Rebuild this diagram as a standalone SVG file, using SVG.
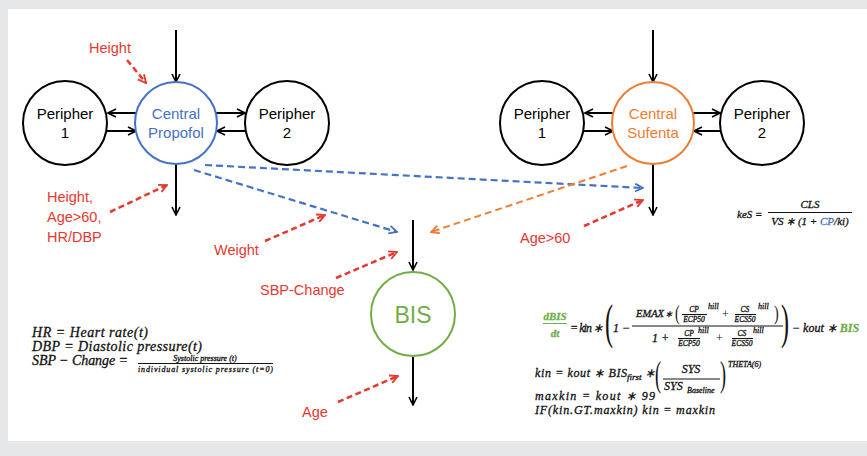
<svg xmlns="http://www.w3.org/2000/svg" width="867" height="456" viewBox="0 0 867 456">
<defs>
<style>
.frame{fill:#e6e7e9}
.node{fill:#fff;stroke-width:2}
.blk{stroke:#000}
.nt{font-family:"Liberation Sans",Arial,sans-serif;font-size:15px;text-anchor:middle}
.lbl{font-family:"Liberation Sans",Arial,sans-serif;font-size:14.5px;fill:#e5392f}
.ln{fill:none;stroke:#000;stroke-width:2;marker-end:url(#ah)}
.dr{fill:none;stroke:#e5392f;stroke-width:2.5;stroke-dasharray:6 3.5;marker-end:url(#ahr)}
.db{fill:none;stroke:#4472c4;stroke-width:2.2;stroke-dasharray:7 4;marker-end:url(#ahb)}
.do{fill:none;stroke:#ed7d31;stroke-width:2;stroke-dasharray:7 4;marker-end:url(#aho)}
.m{font-family:"Liberation Serif","Times New Roman",serif;font-style:italic;fill:#111;stroke:#111;stroke-width:0.3}
.mu{font-family:"Liberation Serif","Times New Roman",serif;fill:#111}
.fl{stroke:#111;stroke-width:1}
.g{fill:#70ad47;stroke:#70ad47;font-weight:bold}
</style>
<marker id="ah" viewBox="0 0 10 10" refX="9" refY="5" markerWidth="5" markerHeight="5" orient="auto" markerUnits="strokeWidth"><path d="M1,1 L9,5 L1,9" fill="none" stroke="#000" stroke-width="1.6"/></marker>
<marker id="ahr" viewBox="0 0 10 10" refX="9" refY="5" markerWidth="4" markerHeight="4" orient="auto" markerUnits="strokeWidth"><path d="M1,1 L9,5 L1,9" fill="none" stroke="#e5392f" stroke-width="1.8"/></marker>
<marker id="ahb" viewBox="0 0 10 10" refX="9" refY="5" markerWidth="4.5" markerHeight="4.5" orient="auto" markerUnits="strokeWidth"><path d="M1,1 L9,5 L1,9" fill="none" stroke="#4472c4" stroke-width="1.8"/></marker>
<marker id="aho" viewBox="0 0 10 10" refX="9" refY="5" markerWidth="5" markerHeight="5" orient="auto" markerUnits="strokeWidth"><path d="M1,1 L9,5 L1,9" fill="none" stroke="#ed7d31" stroke-width="1.8"/></marker>
</defs>
<rect class="frame" x="0" y="0" width="867" height="456"/>
<rect x="8" y="9" width="859" height="432" fill="#fff"/>

<g id="connectors">
<path class="ln" d="M176,30 V82"/>
<path class="ln" d="M176,164 V215"/>
<path class="ln" d="M137,113 H108"/>
<path class="ln" d="M106,131 H136"/>
<path class="ln" d="M216,113 H245"/>
<path class="ln" d="M246,131 H217"/>
<path class="ln" d="M653,30 V82"/>
<path class="ln" d="M653,164 V215"/>
<path class="ln" d="M614,113 H585"/>
<path class="ln" d="M583,131 H613"/>
<path class="ln" d="M693,113 H720"/>
<path class="ln" d="M720,131 H694"/>
<path class="ln" d="M413,220 V270"/>
<path class="ln" d="M413,357 V405"/>
<path class="db" d="M194,170 L397,232"/>
<path class="db" d="M205,165 L643,188"/>
<path class="do" d="M627,166 L431,232"/>
<path class="dr" d="M127,60 L146,83"/>
<path class="dr" d="M110,212 L167,185"/>
<path class="dr" d="M265,241 L325,215"/>
<path class="dr" d="M336,278 L397,252"/>
<path class="dr" d="M338,402 L398,376"/>
<path class="dr" d="M584,226 L643,200"/>
</g>

<g id="peripher1-left"><circle class="node blk" cx="65" cy="123" r="42"/><text class="nt" x="65" y="119">Peripher</text><text class="nt" x="65" y="138">1</text></g>
<g id="central-propofol"><circle class="node" stroke="#4472c4" cx="176" cy="123" r="41"/><text class="nt" fill="#4472c4" x="176" y="119">Central</text><text class="nt" fill="#4472c4" x="176" y="138">Propofol</text></g>
<g id="peripher2-left"><circle class="node blk" cx="287" cy="123" r="42"/><text class="nt" x="287" y="119">Peripher</text><text class="nt" x="287" y="138">2</text></g>

<g id="peripher1-right"><circle class="node blk" cx="542" cy="123" r="42"/><text class="nt" x="542" y="119">Peripher</text><text class="nt" x="542" y="138">1</text></g>
<g id="central-sufenta"><circle class="node" stroke="#ed7d31" cx="653" cy="123" r="41"/><text class="nt" fill="#ed7d31" x="653" y="119">Central</text><text class="nt" fill="#ed7d31" x="653" y="138">Sufenta</text></g>
<g id="peripher2-right"><circle class="node blk" cx="762" cy="123" r="42"/><text class="nt" x="762" y="119">Peripher</text><text class="nt" x="762" y="138">2</text></g>

<g id="bis"><circle class="node" stroke="#70ad47" cx="413" cy="314" r="42"/><text x="413" y="323" text-anchor="middle" font-family="Liberation Sans,Arial,sans-serif" font-size="23" fill="#70ad47">BIS</text></g>

<g id="labels">
<text class="lbl" x="110" y="53" text-anchor="middle">Height</text>
<text class="lbl" x="47" y="202">Height,</text>
<text class="lbl" x="47" y="222">Age&gt;60,</text>
<text class="lbl" x="47" y="242">HR/DBP</text>
<text class="lbl" x="214" y="255">Weight</text>
<text class="lbl" x="260" y="295">SBP-Change</text>
<text class="lbl" x="302" y="417">Age</text>
<text class="lbl" x="520" y="243">Age&gt;60</text>
</g>

<g id="formula-definitions">
<text class="m" font-size="14" x="32" y="337" textLength="116" lengthAdjust="spacing">HR = Heart rate(t)</text>
<text class="m" font-size="14" x="32" y="351" textLength="170" lengthAdjust="spacing">DBP = Diastolic pressure(t)</text>
<text class="m" font-size="14" x="32" y="365" textLength="96" lengthAdjust="spacing">SBP − Change =</text>
<text class="m" font-size="8" x="205" y="361" text-anchor="middle" stroke-width="0.15">Systolic pressure (t)</text>
<line class="fl" x1="138" y1="363.5" x2="273" y2="363.5"/>
<text class="m" font-size="8" x="138" y="372" textLength="135" lengthAdjust="spacing" stroke-width="0.15">individual systolic pressure (t=0)</text>
</g>

<g id="formula-keS">
<text class="m" font-size="11" x="737" y="218">keS =</text>
<text class="m" font-size="11" x="810" y="208" text-anchor="middle">CLS</text>
<line class="fl" x1="768" y1="212.5" x2="852" y2="212.5"/>
<text class="m" font-size="11" x="810" y="225" text-anchor="middle">VS ∗ (1 + <tspan fill="#4472c4" stroke="#4472c4">CP</tspan>/ki)</text>
</g>

<g id="formula-bis">
<text class="m g" font-size="11" x="555" y="320" text-anchor="middle">dBIS</text>
<line x1="543" y1="323.5" x2="567" y2="323.5" stroke="#70ad47" stroke-width="1"/>
<text class="m g" font-size="11" x="555" y="337" text-anchor="middle">dt</text>
<text class="m" font-size="12" x="570" y="332" textLength="33" lengthAdjust="spacing">= kin ∗</text>
<text class="mu" font-size="48" transform="translate(605,338) scale(0.5,1)">(</text>
<text class="m" font-size="12" x="613" y="332">1 −</text>
<line class="fl" x1="632" y1="326" x2="783" y2="326"/>
<text class="m" font-size="10.5" x="636" y="317">EMAX</text>
<text class="m" font-size="9" x="665" y="317">∗</text>
<text class="mu" font-size="20" transform="translate(675,320) scale(0.7,1)">(</text>
<text class="m" font-size="7.5" x="694" y="312" text-anchor="middle" stroke-width="0.15">CP</text>
<line class="fl" x1="682" y1="314.5" x2="707" y2="314.5" stroke-width="0.7"/>
<text class="m" font-size="7.5" x="694" y="321.5" text-anchor="middle" stroke-width="0.15">ECP50</text>
<text class="m" font-size="8" x="708" y="309" stroke-width="0.15">hill</text>
<text class="mu" font-size="12" x="722" y="318">+</text>
<text class="m" font-size="7.5" x="745" y="312" text-anchor="middle" stroke-width="0.15">CS</text>
<line class="fl" x1="735" y1="314.5" x2="756" y2="314.5" stroke-width="0.7"/>
<text class="m" font-size="7.5" x="745" y="321.5" text-anchor="middle" stroke-width="0.15">ECS50</text>
<text class="m" font-size="8" x="758" y="309" stroke-width="0.15">hill</text>
<text class="mu" font-size="20" transform="translate(774,320) scale(0.7,1)">)</text>
<text class="m" font-size="12" x="652" y="342">1 +</text>
<text class="m" font-size="7.5" x="689" y="336" text-anchor="middle" stroke-width="0.15">CP</text>
<line class="fl" x1="678" y1="338.5" x2="700" y2="338.5" stroke-width="0.7"/>
<text class="m" font-size="7.5" x="689" y="345.5" text-anchor="middle" stroke-width="0.15">ECP50</text>
<text class="m" font-size="8" x="698" y="333" stroke-width="0.15">hill</text>
<text class="mu" font-size="12" x="716" y="342">+</text>
<text class="m" font-size="7.5" x="742" y="336" text-anchor="middle" stroke-width="0.15">CS</text>
<line class="fl" x1="732" y1="338.5" x2="753" y2="338.5" stroke-width="0.7"/>
<text class="m" font-size="7.5" x="742" y="345.5" text-anchor="middle" stroke-width="0.15">ECS50</text>
<text class="m" font-size="8" x="753" y="333" stroke-width="0.15">hill</text>
<text class="mu" font-size="48" transform="translate(781,338) scale(0.5,1)">)</text>
<text class="m" font-size="12" x="792" y="332">− kout ∗ <tspan class="g">BIS</tspan></text>

<text class="m" font-size="12" x="535" y="377" textLength="92" lengthAdjust="spacing">kin = kout ∗ BIS</text>
<text class="m" font-size="9" x="627" y="380" stroke-width="0.15">first</text>
<text class="m" font-size="12" x="645" y="377">∗</text>
<text class="mu" font-size="36" transform="translate(655,386) scale(0.5,1)">(</text>
<text class="m" font-size="12" x="691" y="373" text-anchor="middle">SYS</text>
<line class="fl" x1="663" y1="379" x2="720" y2="379"/>
<text class="m" font-size="12" x="664" y="390">SYS</text>
<text class="m" font-size="8" x="687" y="393" stroke-width="0.15">Baseline</text>
<text class="mu" font-size="36" transform="translate(720,386) scale(0.5,1)">)</text>
<text class="m" font-size="8" x="728" y="367" stroke-width="0.15">THETA(6)</text>
<text class="m" font-size="12" x="535" y="400" textLength="120" lengthAdjust="spacing">maxkin = kout ∗ 99</text>
<text class="m" font-size="12" x="535" y="414" textLength="180" lengthAdjust="spacing">IF(kin.GT.maxkin) kin = maxkin</text>
</g>
</svg>
